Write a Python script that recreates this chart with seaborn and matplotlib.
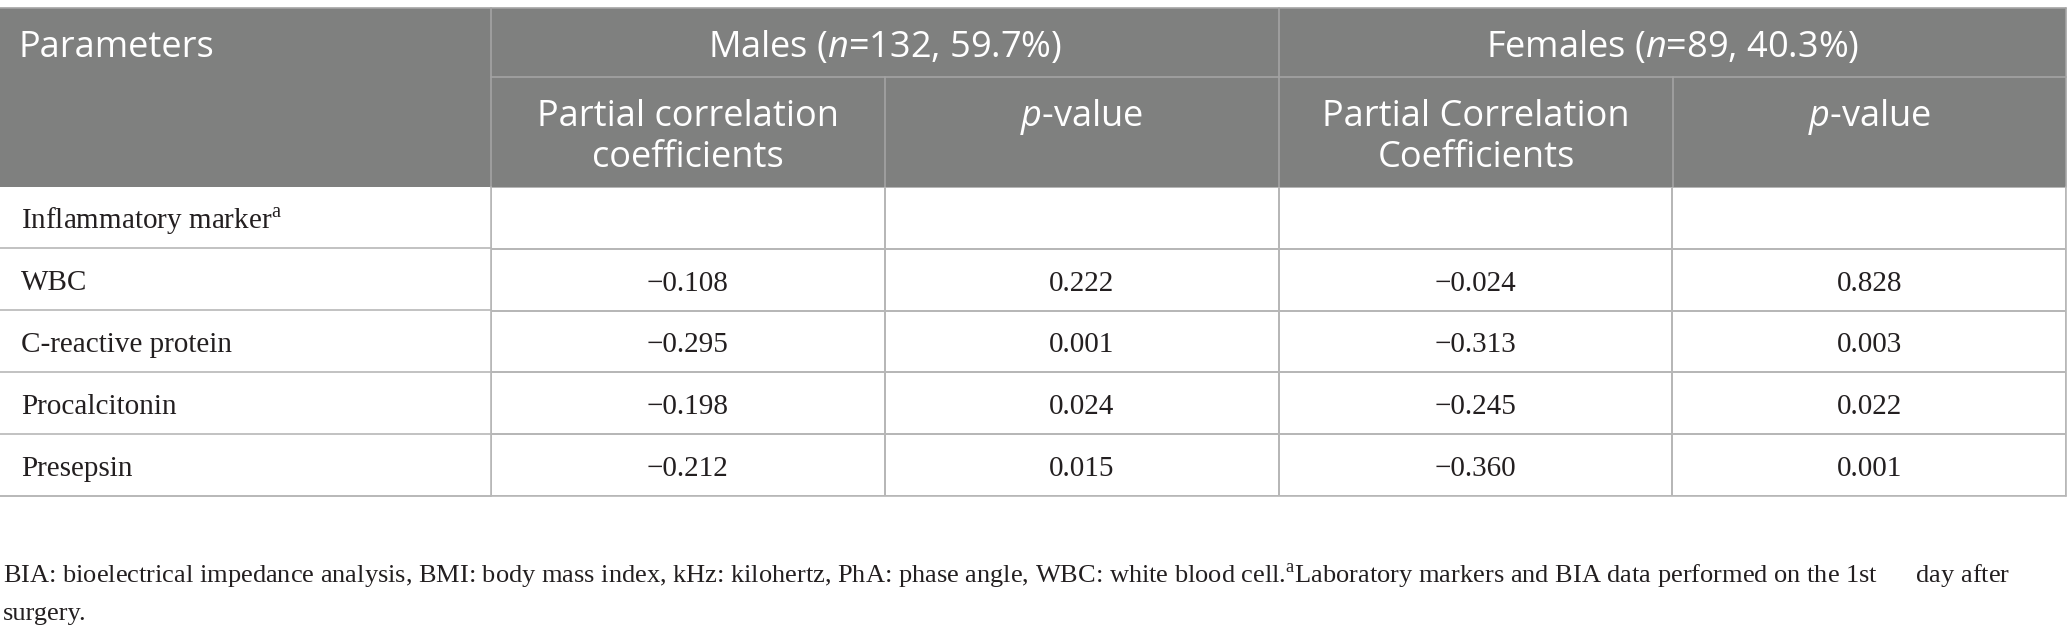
import numpy as np
import pandas as pd
import matplotlib
matplotlib.use("Agg")
import matplotlib.pyplot as plt
from matplotlib.colors import ListedColormap
import seaborn as sns

# datos de la tabla
parametros = ["Inflammatory marker${}^{\\mathrm{a}}$", "WBC", "C-reactive protein", "Procalcitonin", "Presepsin"]
grupos = ["Males ($n$=132, 59.7%)", "Females ($n$=89, 40.3%)"]
subcolumnas = ["Partial correlation\ncoefficients", "$p$-value",
               "Partial Correlation\nCoefficients", "$p$-value"]
hombres_r = [np.nan, -0.108, -0.295, -0.198, -0.212]
hombres_p = [np.nan, 0.222, 0.001, 0.024, 0.015]
mujeres_r = [np.nan, -0.024, -0.313, -0.245, -0.360]
mujeres_p = [np.nan, 0.828, 0.003, 0.022, 0.001]
nota = ["BIA: bioelectrical impedance analysis, BMI: body mass index, kHz: kilohertz, PhA: phase angle, "
        "WBC: white blood cell.${}^{\\mathrm{a}}$Laboratory markers and BIA data performed on the 1st      day after",
        "surgery."]

sns.set_style("white")
plt.rcParams['mathtext.fontset'] = 'custom'
plt.rcParams['mathtext.rm'] = 'Liberation Serif'
plt.rcParams['mathtext.it'] = 'Open Sans:italic'

W, H = 2067, 640
gris = '#7f807f'
linea_cab = '#a4a4a4'
linea = '#b7b7b7'
negro = '#231f20'

fig = plt.figure(figsize=(W / 100, H / 100), dpi=100)
ax = fig.add_axes([0, 0, 1, 1])
ax.set_xlim(0, W)
ax.set_ylim(H, 0)
ax.axis('off')

x_cols = [0, 491, 885, 1279, 1673, 2066]
y_top, y_sub, y_cab = 8, 77, 187
y_filas = [187, 248, 310, 372, 434, 496]

# cabecera gris
ax.add_patch(plt.Rectangle((0, y_top), x_cols[-1], y_cab - y_top, color=gris, lw=0))
ax.plot([0, x_cols[-1]], [y_top, y_top], color=linea_cab, lw=1.2)
ax.plot([x_cols[1], x_cols[1]], [y_top, y_cab], color=linea_cab, lw=1.2)
ax.plot([x_cols[3], x_cols[3]], [y_top, y_cab], color=linea_cab, lw=1.2)
ax.plot([x_cols[1], x_cols[-1]], [y_sub, y_sub], color=linea_cab, lw=1.2)
for xc in [x_cols[2], x_cols[4]]:
    ax.plot([xc, xc], [y_sub, y_cab], color=linea_cab, lw=1.2)
ax.plot([x_cols[-1], x_cols[-1]], [y_top, y_cab], color=linea_cab, lw=1.2)

fuente_cab = dict(family='Open Sans', fontsize=26, color='white')
ax.text(19, 57, "Parameters", ha='left', va='baseline', **fuente_cab)
for i, g in enumerate(grupos):
    xc = (x_cols[1 + 2 * i] + x_cols[3 + 2 * i]) / 2
    ax.text(xc, 57, g, ha='center', va='baseline', **fuente_cab)
for i, s in enumerate(subcolumnas):
    xc = (x_cols[1 + i] + x_cols[2 + i]) / 2
    for j, parte in enumerate(s.split("\n")):
        ax.text(xc, 126 + 41 * j, parte, ha='center', va='baseline', **fuente_cab)

# primera columna
for yl in y_filas[1:]:
    ax.plot([0, x_cols[1]], [yl, yl], color=linea, lw=1.2)
ax.plot([x_cols[1], x_cols[1]], [y_cab, y_filas[-1]], color=linea, lw=1.2)
for i, p in enumerate(parametros):
    ax.text(21, y_filas[i] + 42, p, ha='left', va='baseline', family='Liberation Serif',
            fontsize=21, color=negro)

# valores numericos con heatmap
tabla = pd.DataFrame({"mr": hombres_r, "mp": hombres_p, "fr": mujeres_r, "fp": mujeres_p})
etiquetas = tabla.apply(lambda c: c.map(lambda v: "" if pd.isna(v) else f"{v:.3f}".replace("-", "\u2212")))
hx = fig.add_axes([x_cols[1] / W, 1 - y_filas[-1] / H,
                   (x_cols[-1] - x_cols[1]) / W, (y_filas[-1] - y_cab) / H])
sns.heatmap(tabla.notna().astype(float) * 0, ax=hx, cmap=ListedColormap(['white']), cbar=False,
            annot=etiquetas.values, fmt='', linewidths=1.2, linecolor=linea,
            xticklabels=False, yticklabels=False,
            annot_kws=dict(family='Liberation Serif', fontsize=21, color=negro, va='baseline'))
hx.axis('off')
# bajar las cifras hasta la linea base de la primera columna
for t in hx.texts:
    t.set_y(t.get_position()[1] + 11 / 62)
ax.plot([x_cols[-1], x_cols[-1]], [y_cab, y_filas[-1]], color=linea, lw=1.2)
ax.plot([0, x_cols[-1]], [y_filas[-1], y_filas[-1]], color=linea, lw=1.2)

# nota al pie, ajustada al ancho de la linea original
pie = [ax.text(3, 583 + 37 * j, linea_txt, ha='left', va='baseline', family='Liberation Serif',
               fontsize=19, color=negro) for j, linea_txt in enumerate(nota)]
r = fig.canvas.get_renderer()
ancho = pie[0].get_window_extent(r).width
for t in pie:
    t.set_fontsize(19 * 2012 / ancho)

fig.savefig("out.png", dpi=100, facecolor='white')
